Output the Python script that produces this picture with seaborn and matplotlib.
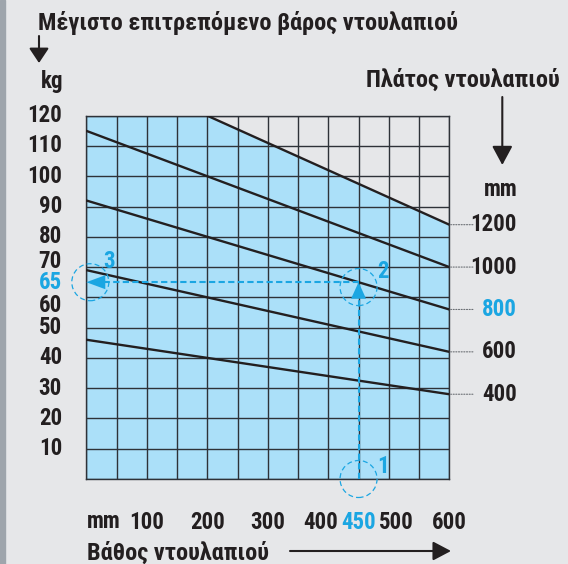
import matplotlib
matplotlib.use("Agg")
import numpy as np
import pandas as pd
import matplotlib.pyplot as plt
import seaborn as sns
from matplotlib import font_manager
from matplotlib.patches import Ellipse, Polygon, FancyArrowPatch, Rectangle

# ---- data -------------------------------------------------------------
depth_mm = [0, 200, 400, 600]
widths_mm = [400, 600, 800, 1000, 1200]
load_400 = [46, 40, 34, 28]
load_600 = [69, 60, 51, 42]
load_800 = [92, 80, 68, 56]
load_1000 = [115, 100, 85, 70]
load_1200 = [np.nan, 120, 102, 84]

example_depth = 450
example_load = 65
example_width = 800

x_tick_values = [100, 200, 300, 400, 450, 500, 600]
y_tick_values = [10, 20, 30, 40, 50, 60, 65, 70, 80, 90, 100, 110, 120]
x_max, y_max = 600, 120

# ---- style ------------------------------------------------------------
BG = "#e6e7e9"
FILL = "#abe0f9"
GRID = "#2e3238"
INK = "#231f20"
BLUE = "#1ba6e2"

installed = {f.name for f in font_manager.fontManager.ttflist}
narrow = next((n for n in ["Roboto Condensed", "Fira Sans Condensed",
                           "Open Sans Condensed", "Liberation Sans Narrow",
                           "Roboto", "Liberation Sans"] if n in installed),
              "DejaVu Sans")
FONT = [narrow, "DejaVu Sans"]
WEIGHT = "heavy"

sns.set_theme(style="white")
plt.rcParams["font.family"] = FONT
plt.rcParams["font.weight"] = WEIGHT
FS = 16.5        # numbers
FS_CAP = 17.6    # captions

W, H = 568, 564
fig = plt.figure(figsize=(W / 100, H / 100), dpi=100, facecolor=BG)


def fx(px):
    return px / W


def fy(py):
    return 1 - py / H


fig.patches.append(Rectangle((0, 0), fx(5), 1, transform=fig.transFigure,
                             color="#9ea5ac", zorder=0))

ax = fig.add_axes([fx(86.3), fy(479), fx(449.3) - fx(86.3), fy(115.7) - fy(479)])
ax.set_facecolor(BG)

# long-form table of the load curves
series = {400: load_400, 600: load_600, 800: load_800, 1000: load_1000, 1200: load_1200}
df = pd.DataFrame([
    {"depth": d, "load": v, "width": w}
    for w in widths_mm for d, v in zip(depth_mm, series[w])
]).dropna()

# permitted area below the widest-cabinet curve
fill_x = [0] + [d for d, v in zip(depth_mm, load_1200) if not np.isnan(v)]
fill_y = [y_max] + [v for v in load_1200 if not np.isnan(v)]
ax.fill_between(fill_x, 0, fill_y, color=FILL, lw=0, zorder=0.3)

sns.lineplot(data=df, x="depth", y="load", hue="width", units="width",
             estimator=None, palette={w: INK for w in widths_mm},
             legend=False, lw=1.7, ax=ax, zorder=3)

ax.set_xlim(0, x_max)
ax.set_ylim(0, y_max)
ax.set_xlabel("")
ax.set_ylabel("")

# grid: one cell per 50 mm and per 10 kg
ax.set_xticks(np.arange(0, x_max + 1, 50))
ax.set_yticks(np.arange(0, y_max + 1, 10))
ax.set_xticklabels([])
ax.set_yticklabels([])
ax.set_axisbelow(True)
ax.grid(True, which="major", color=GRID, lw=1.0)
for s in ax.spines.values():
    s.set_color(GRID)
    s.set_linewidth(1.0)
ax.tick_params(which="both", length=0)

# tick labels; neighbours of the highlighted value are pushed aside
nudge_x = {400: -8, 500: 8}
nudge_y = {70: 6, 60: -8.5}
for v in x_tick_values:
    ax.annotate(str(v), xy=(v, 0), xycoords=("data", "axes fraction"),
                xytext=(nudge_x.get(v, 0) * 0.72, -23), textcoords="offset points",
                ha="center", va="top", fontsize=FS, fontweight=WEIGHT,
                color=BLUE if v == example_depth else INK, annotation_clip=False)
for v in y_tick_values:
    ax.annotate(str(v), xy=(0, v), xycoords=("axes fraction", "data"),
                xytext=(-17.5, nudge_y.get(v, 0) * 0.72), textcoords="offset points",
                ha="right", va="center", fontsize=FS, fontweight=WEIGHT,
                color=BLUE if v == example_load else INK, annotation_clip=False)

# width labels at the end of each curve, with dotted leaders
for w in widths_mm:
    y_end = series[w][-1]
    ax.annotate("", xy=(x_max, y_end), xytext=(17, 0), textcoords="offset points",
                arrowprops=dict(arrowstyle="-", color="#6b6f74", lw=0.8,
                                linestyle=(0, (1, 1.4)), shrinkA=0, shrinkB=1),
                annotation_clip=False)
    ax.annotate(str(w), xy=(x_max, y_end), xytext=(48.7, 0), textcoords="offset points",
                ha="right", va="center", fontsize=FS, fontweight=WEIGHT,
                color=BLUE if w == example_width else INK, annotation_clip=False)

# worked example: depth 450 -> 800 curve -> 65 kg
px_x = 50 / 30.25   # mm per pixel
px_y = 10 / 30.27   # kg per pixel
ax.plot([example_depth, example_depth], [0, example_load - 16.5 * px_y],
        color=BLUE, lw=1.5, dashes=(3, 1.6), zorder=4)
ax.plot([example_depth, 19 * px_x], [example_load, example_load],
        color=BLUE, lw=1.5, dashes=(3, 1.6), zorder=4)
ax.add_patch(Polygon([(example_depth, example_load),
                      (example_depth - 7.5 * px_x, example_load - 16.5 * px_y),
                      (example_depth + 7.5 * px_x, example_load - 16.5 * px_y)],
                     closed=True, color=BLUE, lw=0, zorder=5))
ax.add_patch(Polygon([(0, example_load),
                      (19 * px_x, example_load + 7 * px_y),
                      (19 * px_x, example_load - 7 * px_y)],
                     closed=True, color=BLUE, lw=0, zorder=5, clip_on=False))
rad = 18.5
for (cx, cy), num, (tx, ty) in [
    ((example_depth, 0), "1", (example_depth + 24 * px_x, 4)),
    ((example_depth, example_load - 1.6), "2", (example_depth + 24 * px_x, example_load + 3.5)),
    ((4 * px_x, example_load), "3", (23 * px_x, example_load + 7)),
]:
    ax.add_patch(Ellipse((cx, cy), 2 * rad * px_x, 2 * rad * px_y, fill=False,
                         edgecolor=BLUE, lw=0.9, linestyle=(0, (4, 2.5)),
                         zorder=5, clip_on=False))
    ax.text(tx, ty, num, color=BLUE, fontsize=FS, fontweight=WEIGHT,
            ha="center", va="center", zorder=6, clip_on=False)


# ---- surrounding captions and arrows ----------------------------------
def ftext(px, py, s, ha="left", va="baseline", size=FS_CAP, **kw):
    fig.text(fx(px), fy(py), s, ha=ha, va=va, fontsize=size, fontweight=WEIGHT,
             color=INK, **kw)


def farrow(p0, p1, hl, hw, lw=1.5):
    fig.patches.append(FancyArrowPatch(
        (fx(p0[0]), fy(p0[1])), (fx(p1[0]), fy(p1[1])), transform=fig.transFigure,
        arrowstyle=f"-|>,head_length={hl},head_width={hw}", mutation_scale=1,
        color=INK, lw=lw, shrinkA=0, shrinkB=0))


ftext(38, 30, "Μέγιστο επιτρεπόμενο βάρος ντουλαπιού")
farrow((39, 36), (39, 63), 9, 6)
ftext(41, 88, "kg", size=FS)

ftext(560, 87, "Πλάτος ντουλαπιού", ha="right")
farrow((502.3, 97), (502.3, 165), 11.5, 6.2)
ftext(518, 196, "mm", ha="right", size=FS)

ftext(87, 528, "mm", size=FS)
ftext(87, 560, "Βάθος ντουλαπιού")
farrow((290, 551), (451, 551), 11, 5.8)

fig.savefig("out.png", dpi=100, facecolor=BG)
